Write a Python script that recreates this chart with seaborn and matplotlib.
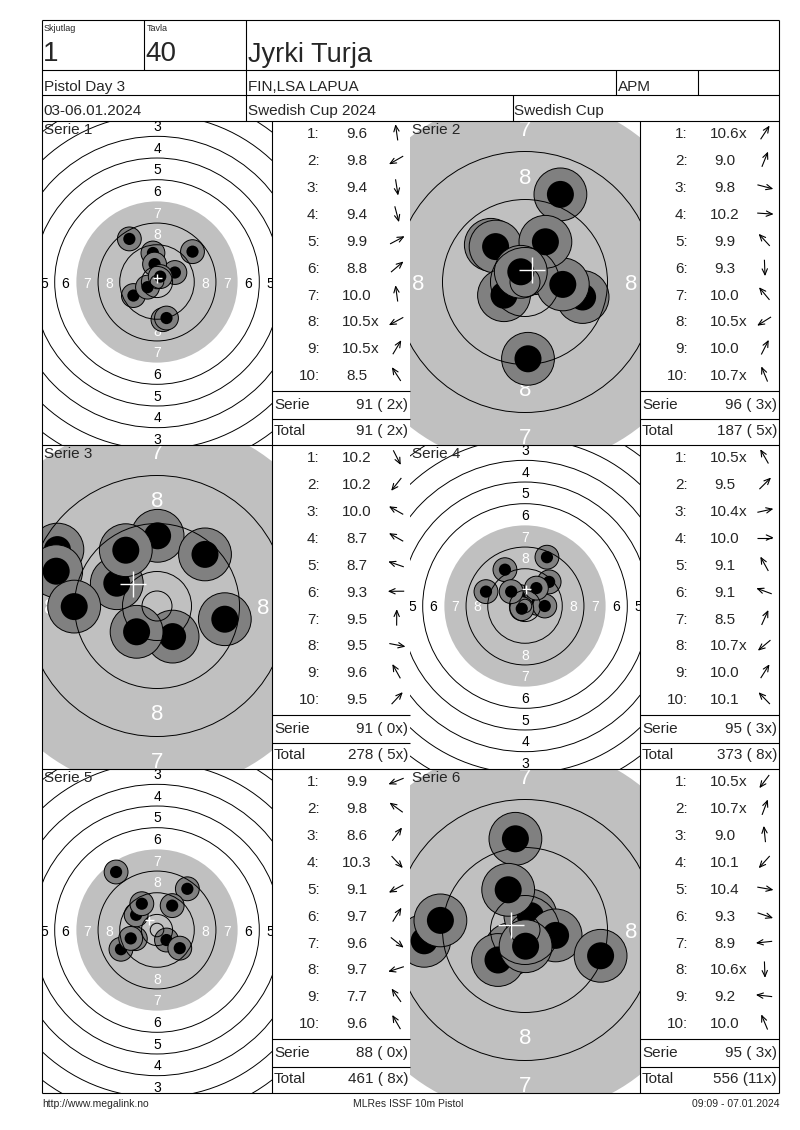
import numpy as np
import matplotlib
matplotlib.use("Agg")
import matplotlib.pyplot as plt
from matplotlib.patches import Circle
import seaborn as sns

sns.set_theme(style="white")
plt.rcParams['font.family'] = ['Liberation Sans', 'DejaVu Sans']

# ---------------- header / footer texts ----------------
hdr_labels = ["Skjutlag", "Tavla"]
hdr_values = ["1", "40"]
shooter_name = "Jyrki Turja"
event_name = "Pistol Day 3"
club_name = "FIN,LSA LAPUA"
class_name = "APM"
date_text = "03-06.01.2024"
competition = "Swedish Cup 2024"
cup_name = "Swedish Cup"
footer_left = "http://www.megalink.no"
footer_mid = "MLRes ISSF 10m Pistol"
footer_right = "09:09 - 07.01.2024"

series_titles = ["Serie 1", "Serie 2", "Serie 3", "Serie 4", "Serie 5", "Serie 6"]

# ---------------- shot data (scores, positions in mm; y up) ----------------
s1_scores = ["9.6", "9.8", "9.4", "9.4", "9.9", "8.8", "10.0", "10.5x", "10.5x", "8.5"]
s1_x = [-1.5, -8.7, 2.2, 3.5, 6.6, 13.1, -0.9, -3.5, 1.2, -10.2]
s1_y = [10.7, -5.0, -13.9, -13.3, 3.5, 11.2, 6.6, -1.9, 2.0, 15.9]
s1_serie, s1_total = "91 ( 2x)", "91 ( 2x)"

s2_scores = ["10.6x", "9.0", "9.8", "10.2", "9.9", "9.3", "10.0", "10.5x", "10.0", "10.7x"]
s2_x = [1.5, 5.9, 9.6, 6.3, -5.7, 0.5, -4.9, -3.5, 3.4, -0.7]
s2_y = [2.3, 14.6, -2.5, -0.4, 6.2, -12.8, 5.9, -2.2, 6.7, 1.7]
s2_serie, s2_total = "96 ( 3x)", "187 ( 5x)"

s3_scores = ["10.2", "10.2", "10.0", "8.7", "8.7", "9.3", "9.5", "9.5", "9.6", "9.5"]
s3_x = [2.6, -3.4, -6.7, -16.6, -16.8, -13.8, 0.1, 11.3, -5.2, 8.0]
s3_y = [-5.1, -4.3, 3.8, 9.4, 5.8, -0.1, 11.7, -2.2, 9.3, 8.6]
s3_serie, s3_total = "91 ( 0x)", "278 ( 5x)"

s4_scores = ["10.5x", "9.5", "10.4x", "10.0", "9.1", "9.1", "8.5", "10.7x", "10.0", "10.1"]
s4_x = [-2.0, 8.9, 4.5, 7.3, -7.4, -14.4, 8.1, -1.2, 4.2, -5.1]
s4_y = [3.5, 8.9, 1.0, 0.0, 13.4, 5.3, 18.0, -1.0, 6.6, 5.3]
s4_serie, s4_total = "95 ( 3x)", "373 ( 8x)"

s5_scores = ["9.9", "9.8", "8.6", "10.3", "9.1", "9.7", "9.6", "9.7", "7.7", "9.6"]
s5_x = [-8.0, -7.7, 11.2, 3.5, -13.3, 5.6, 8.4, -9.7, -15.1, -5.6]
s5_y = [-3.2, 5.6, 15.2, -3.7, -7.1, 9.0, -6.7, -3.1, 21.4, 9.7]
s5_serie, s5_total = "88 ( 0x)", "461 ( 8x)"

s6_scores = ["10.5x", "10.7x", "9.0", "10.1", "10.4", "9.3", "8.9", "10.6x", "9.2", "10.0"]
s6_x = [-2.4, 0.9, -1.6, -4.5, 5.1, 12.6, -16.8, 0.1, -14.1, -2.8]
s6_y = [-3.2, 2.4, 15.2, -5.0, -0.9, -4.3, -1.8, -2.7, 1.6, 6.7]
s6_serie, s6_total = "95 ( 3x)", "556 (11x)"

zoomed = [False, True, True, False, False, True]

all_scores = [s1_scores, s2_scores, s3_scores, s4_scores, s5_scores, s6_scores]
all_x = [s1_x, s2_x, s3_x, s4_x, s5_x, s6_x]
all_y = [s1_y, s2_y, s3_y, s4_y, s5_y, s6_y]
all_serie = [s1_serie, s2_serie, s3_serie, s4_serie, s5_serie, s6_serie]
all_total = [s1_total, s2_total, s3_total, s4_total, s5_total, s6_total]

# ---------------- target geometry (ISSF 10m pistol, mm) ----------------
ring_outer = {n: 5.75 + (10 - n) * 8.0 for n in range(1, 11)}
inner_ten = 2.5
line_rings = [inner_ten] + [ring_outer[n] for n in (10, 9, 8, 6, 5, 4, 3, 2, 1)]

GRAY = "#c0c0c0"
SHOT_GRAY = "#808080"

W, H = 800, 1130
fig = plt.figure(figsize=(W / 100, H / 100), dpi=100)
fig.patch.set_facecolor("white")

ov = fig.add_axes([0, 0, 1, 1], zorder=10)
ov.set_xlim(0, W)
ov.set_ylim(H, 0)
ov.axis("off")
ov.patch.set_alpha(0)

LW = 0.8


def hline(y, x0, x1):
    ov.plot([x0, x1], [y, y], color="black", lw=LW, solid_capstyle="butt")


def vline(x, y0, y1):
    ov.plot([x, x], [y0, y1], color="black", lw=LW, solid_capstyle="butt")


L, R, T, B = 42, 779, 20, 1093
row_tops = [121, 445, 769]
row_h = 324

# outer frame and header grid
hline(T, L, R); hline(B, L, R); vline(L, T, B); vline(R, T, B)
hline(70, L, R); hline(95, L, R); hline(121, L, R)
vline(144, T, 70); vline(246, T, 121)
vline(616, 70, 95); vline(698, 70, 95)
vline(513, 95, 121)
for rt in row_tops[1:]:
    hline(rt, L, R)

FS = 11
ov.text(44, 31, hdr_labels[0], fontsize=6.5, ha="left", va="baseline")
ov.text(147, 31, hdr_labels[1], fontsize=6.5, ha="left", va="baseline")
ov.text(43, 61, hdr_values[0], fontsize=20, ha="left", va="baseline")
ov.text(145, 61, hdr_values[1], fontsize=20, ha="left", va="baseline")
ov.text(248, 61.5, shooter_name, fontsize=19.5, ha="left", va="baseline")
ov.text(43.5, 91, event_name, fontsize=FS, ha="left", va="baseline")
ov.text(248, 91, club_name, fontsize=FS, ha="left", va="baseline")
ov.text(617.5, 91, class_name, fontsize=FS, ha="left", va="baseline")
ov.text(43.5, 115, date_text, fontsize=FS, ha="left", va="baseline")
ov.text(248, 115, competition, fontsize=FS, ha="left", va="baseline")
ov.text(514.5, 115, cup_name, fontsize=FS, ha="left", va="baseline")

ov.text(42, 1104, footer_left, fontsize=7.5, ha="left", va="center")
ov.text(408, 1104, footer_mid, fontsize=7.5, ha="center", va="center")
ov.text(779, 1104, footer_right, fontsize=7.5, ha="right", va="center")

cols = [(42, 272, 410), (410, 640, 779)]  # target x0, table x0, table x1


def draw_arrow(cx, cy, dx, dy):
    d = np.hypot(dx, dy)
    ux, uy = dx / d, -dy / d
    Ls = 15.0
    tx, ty = cx - ux * Ls / 2, cy - uy * Ls / 2
    hx, hy = cx + ux * Ls / 2, cy + uy * Ls / 2
    ov.plot([tx, hx], [ty, hy], color="black", lw=0.8, solid_capstyle="butt")
    for a in (np.radians(24), -np.radians(24)):
        bx = (-ux) * np.cos(a) - (-uy) * np.sin(a)
        by = (-ux) * np.sin(a) + (-uy) * np.cos(a)
        ov.plot([hx, hx + bx * 6.5], [hy, hy + by * 6.5], color="black", lw=0.8)


for k in range(6):
    r, c = divmod(k, 2)
    top = row_tops[r]
    tx0, tbx0, tbx1 = cols[c]
    zoom = zoomed[k]
    s = 6.0 if zoom else 2.71
    gray_r = 30.8 if zoom else 29.75
    w = tbx0 - tx0
    h = row_h
    xs, ys = all_x[k], all_y[k]

    ax = fig.add_axes([tx0 / W, 1 - (top + h) / H, w / W, h / H], zorder=1)
    ax.add_patch(Circle((0, 0), gray_r, fc=GRAY, ec="none", zorder=1))
    fs_lab = 16 if zoom else 10
    for n in range(1, 9):
        rr = ring_outer[n] - 4.0
        col = "white" if n >= 7 else "black"
        for ddx, ddy in [(0, 1), (0, -1), (1, 0), (-1, 0)]:
            ax.text(ddx * rr, ddy * rr, str(n), ha="center", va="center_baseline",
                    fontsize=fs_lab, color=col, clip_on=True, zorder=2)
    for i, (x, y) in enumerate(zip(xs, ys)):
        ax.add_patch(Circle((x, y), 4.4, fc=SHOT_GRAY, ec="black", lw=0.7,
                            zorder=3 + i * 0.02))
        ax.add_patch(Circle((x, y), 2.25, fc="black", ec="none",
                            zorder=3.01 + i * 0.02))
    for rr in line_rings:
        ax.add_patch(Circle((0, 0), rr, fill=False, ec="black", lw=0.7, zorder=4))
    cross_px = 26 if zoom else 9
    sns.scatterplot(x=[float(np.mean(xs))], y=[float(np.mean(ys))], ax=ax,
                    marker="+", s=(cross_px * 0.72) ** 2, color="white",
                    linewidth=1.0, zorder=6, legend=False)
    cy_off = 1.0 / s  # target centre sits ~1px above the cell centre
    ax.set_xlim(-w / 2 / s, w / 2 / s)
    ax.set_ylim(-h / 2 / s - cy_off, h / 2 / s - cy_off)
    ax.axis("off")

    # panel title
    ov.text(tx0 + 1.5, top + 12.7, series_titles[k], fontsize=FS, ha="left",
            va="baseline", zorder=20)

    # table
    vline(tbx0, top, top + h)
    hline(top + 269.5, tbx0, tbx1)
    hline(top + 297.5, tbx0, tbx1)
    for i, sc in enumerate(all_scores[k]):
        yc = top + 12 + i * 26.85
        yb = yc + 5.5
        ov.text(tbx0 + 47.5, yb, f"{i + 1}:", fontsize=FS, ha="right", va="baseline")
        num = sc.rstrip("x")
        ov.text(tbx0 + 84.7, yb, num, fontsize=FS, ha="center", va="baseline")
        if sc.endswith("x"):
            ov.text(tbx0 + 84.7 + 14.6, yb, "x", fontsize=FS, ha="left", va="baseline")
        draw_arrow(tbx0 + 124.7, yc, xs[i], ys[i])
    ov.text(tbx0 + 2, top + 288, "Serie", fontsize=FS, ha="left", va="baseline")
    ov.text(tbx1 - 2, top + 288, all_serie[k], fontsize=FS, ha="right", va="baseline")
    ov.text(tbx0 + 2, top + 313.7, "Total", fontsize=FS, ha="left", va="baseline")
    ov.text(tbx1 - 2, top + 313.7, all_total[k], fontsize=FS, ha="right", va="baseline")

fig.savefig("out.png", dpi=100, facecolor="white")
